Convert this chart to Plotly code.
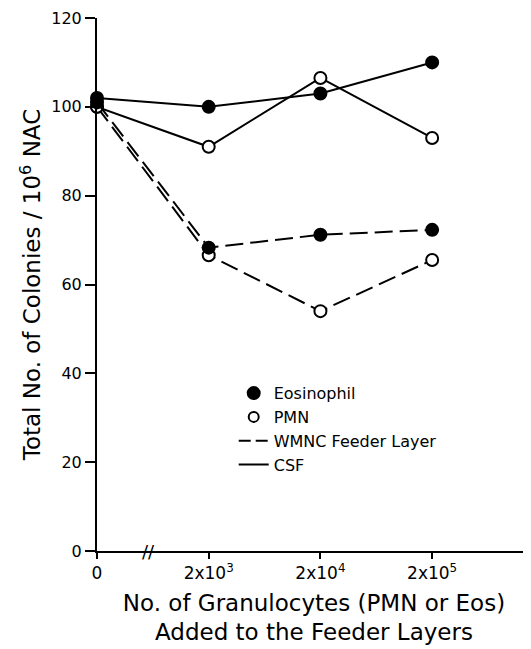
import plotly.graph_objects as go

# ---- data ----
x_labels = ["0", "2x10<sup>3</sup>", "2x10<sup>4</sup>", "2x10<sup>5</sup>"]
x_pos = [0, 1, 2, 3]
csf_eos = [102, 100, 103, 110]
csf_pmn = [100, 91, 106.5, 93]
wmnc_eos = [101, 68.3, 71.2, 72.3]
wmnc_pmn = [100, 66.6, 54, 65.5]
y_ticks = [0, 20, 40, 60, 80, 100, 120]

FONT = "DejaVu Sans"
BLACK = "black"
DASH = "18px,7px"

fig = go.Figure()

def add_series(y, dash, filled):
    fig.add_trace(go.Scatter(
        x=x_pos, y=y, mode="lines+markers", showlegend=False,
        line=dict(color=BLACK, width=2, dash=dash),
        marker=dict(symbol="circle", size=12,
                    color=BLACK if filled else "white",
                    line=dict(color=BLACK, width=2)),
        cliponaxis=False,
    ))

add_series(wmnc_pmn, DASH, False)
add_series(csf_pmn, "solid", False)
add_series(wmnc_eos, DASH, True)
add_series(csf_eos, "solid", True)

# legend-only traces
fig.add_trace(go.Scatter(x=[None], y=[None], mode="markers", name="Eosinophil",
                         marker=dict(symbol="circle", size=12, color=BLACK,
                                     line=dict(color=BLACK, width=2))))
fig.add_trace(go.Scatter(x=[None], y=[None], mode="markers", name="PMN",
                         marker=dict(symbol="circle", size=10, color="white",
                                     line=dict(color=BLACK, width=2))))
fig.add_trace(go.Scatter(x=[None], y=[None], mode="lines", name="WMNC Feeder Layer",
                         line=dict(color=BLACK, width=2, dash="12px,5px")))
fig.add_trace(go.Scatter(x=[None], y=[None], mode="lines", name="CSF",
                         line=dict(color=BLACK, width=2)))

# axis break mark
fig.add_annotation(x=0.46, y=0, xref="x", yref="y", text="//", showarrow=False,
                   font=dict(family=FONT, size=18, color=BLACK))

fig.update_layout(
    width=531, height=649,
    margin=dict(l=89, r=8, t=10, b=106),
    paper_bgcolor="white", plot_bgcolor="white",
    font=dict(family=FONT, color=BLACK, size=15),
    legend=dict(x=0.315, y=0.328, xanchor="left", yanchor="top",
                bgcolor="rgba(0,0,0,0)", font=dict(family=FONT, size=16, color=BLACK),
                tracegroupgap=0),
    xaxis=dict(
        range=[0, 3.885], tickmode="array", tickvals=x_pos, ticktext=x_labels,
        automargin=False, ticklabeloverflow="allow",
        showline=True, linecolor=BLACK, linewidth=2, showgrid=False, zeroline=False,
        ticks="outside", ticklen=6, tickwidth=2, tickcolor=BLACK,
        tickfont=dict(family=FONT, size=17, color=BLACK),
        title=dict(text="No. of Granulocytes (PMN or Eos)<br>Added to the Feeder Layers",
                   font=dict(family=FONT, size=23, color=BLACK), standoff=12),
    ),
    yaxis=dict(
        range=[0, 120], tickmode="array", tickvals=y_ticks,
        automargin=False, ticklabeloverflow="allow",
        showline=True, linecolor=BLACK, linewidth=2, showgrid=False, zeroline=False,
        ticks="outside", ticklen=10, tickwidth=2, tickcolor=BLACK,
        tickfont=dict(family=FONT, size=16, color=BLACK),
        title=dict(text="Total No. of Colonies / 10<sup>6</sup> NAC",
                   font=dict(family=FONT, size=23, color=BLACK), standoff=4),
    ),
)

fig.write_html("out.html")
